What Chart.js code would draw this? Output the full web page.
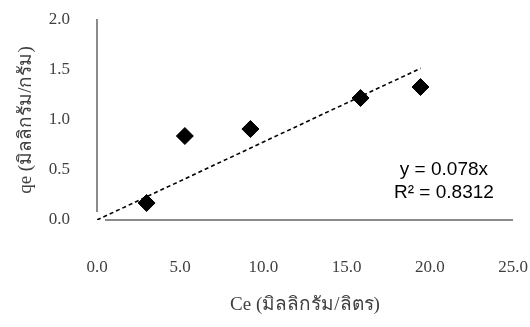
<!DOCTYPE html>
<html>
<head>
<meta charset="utf-8">
<script src="https://cdn.jsdelivr.net/npm/chart.js@4.4.1/dist/chart.umd.min.js"></script>
<style>
  html, body { margin: 0; padding: 0; background: #ffffff; }
  #wrap { width: 530px; height: 327px; }
</style>
</head>
<body>
<div id="wrap"><canvas id="c" width="530" height="327"></canvas></div>
<script>
// Data
const ceValues = [2.98, 5.28, 9.22, 15.84, 19.44];
const qeValues = [0.17, 0.84, 0.91, 1.22, 1.33];
const trendX = [0, 19.45];
const trendY = [0, 1.517];
const xTicks = [0, 5, 10, 15, 20, 25];
const yTicks = [0, 0.5, 1.0, 1.5, 2.0];
const equationLines = ['y = 0.078x', 'R² = 0.8312'];
const xTitle = 'Ce (มิลลิกรัม/ลิตร)';
const yTitle = 'qe (มิลลิกรัม/กรัม)';

const points = ceValues.map((x, i) => ({ x: x, y: qeValues[i] }));
const trend = trendX.map((x, i) => ({ x: x, y: trendY[i] }));

const serif = "'Liberation Serif', 'Times New Roman', serif";
const sans = "'Liberation Sans', Arial, sans-serif";

const axisLines = {
  id: 'axisLines',
  beforeDatasetsDraw(chart) {
    const { ctx, scales: { x, y } } = chart;
    ctx.save();
    ctx.strokeStyle = '#8a8a8a';
    ctx.lineWidth = 2;
    ctx.beginPath();
    ctx.moveTo(x.getPixelForValue(0), y.getPixelForValue(2.01));
    ctx.lineTo(x.getPixelForValue(0), y.getPixelForValue(0.08));
    ctx.stroke();
    ctx.beginPath();
    ctx.moveTo(x.getPixelForValue(0.48), y.getPixelForValue(0));
    ctx.lineTo(x.getPixelForValue(25), y.getPixelForValue(0));
    ctx.stroke();
    ctx.restore();
  }
};

const equation = {
  id: 'equation',
  afterDatasetsDraw(chart) {
    const { ctx, scales: { x, y } } = chart;
    ctx.save();
    ctx.fillStyle = '#000000';
    ctx.font = '19px ' + sans;
    ctx.textAlign = 'center';
    ctx.textBaseline = 'middle';
    const cx = x.getPixelForValue(20.85);
    ctx.fillText(equationLines[0], cx, y.getPixelForValue(0.50));
    ctx.fillText(equationLines[1], cx, y.getPixelForValue(0.27));
    ctx.restore();
  }
};

new Chart(document.getElementById('c'), {
  type: 'scatter',
  data: {
    datasets: [
      {
        label: 'qe',
        data: points,
        pointStyle: 'rectRot',
        pointRadius: 8.5,
        pointHoverRadius: 8.5,
        backgroundColor: '#000000',
        borderColor: '#000000',
        borderWidth: 1,
        order: 1
      },
      {
        label: 'trend',
        type: 'line',
        data: trend,
        borderColor: '#000000',
        borderWidth: 1.6,
        borderDash: [4, 3],
        pointRadius: 0,
        fill: false,
        order: 2
      }
    ]
  },
  options: {
    responsive: false,
    animation: false,
    events: [],
    layout: { padding: { top: 20, right: 17, left: 0, bottom: 0 } },
    plugins: { legend: { display: false }, tooltip: { enabled: false } },
    scales: {
      x: {
        type: 'linear',
        min: 0, max: 25,
        afterBuildTicks(scale) { scale.ticks = xTicks.map(v => ({ value: v })); },
        afterFit(scale) {
          scale.height = 107;
          scale.paddingLeft = 0; scale.paddingRight = 0;
          scale.paddingTop = 0; scale.paddingBottom = 0;
        },
        grid: { display: false, drawTicks: false, tickLength: 0 },
        border: { display: false },
        ticks: {
          padding: 37,
          color: '#404040',
          font: { family: serif, size: 17 },
          callback: v => Number(v).toFixed(1)
        },
        title: {
          display: true,
          text: xTitle,
          color: '#404040',
          font: { family: serif, size: 19 },
          padding: { top: 0, bottom: 11 }
        }
      },
      y: {
        type: 'linear',
        min: 0, max: 2,
        afterBuildTicks(scale) { scale.ticks = yTicks.map(v => ({ value: v })); },
        afterFit(scale) {
          scale.width = 97;
          scale.paddingLeft = 0; scale.paddingRight = 0;
          scale.paddingTop = 0; scale.paddingBottom = 0;
        },
        grid: { display: false, drawTicks: false, tickLength: 0 },
        border: { display: false },
        ticks: {
          padding: 27,
          color: '#404040',
          font: { family: serif, size: 17 },
          callback: v => Number(v).toFixed(1)
        },
        title: {
          display: true,
          text: yTitle,
          color: '#404040',
          font: { family: serif, size: 19 },
          padding: { top: 15, bottom: 0 }
        }
      }
    }
  },
  plugins: [axisLines, equation]
});
</script>
</body>
</html>
